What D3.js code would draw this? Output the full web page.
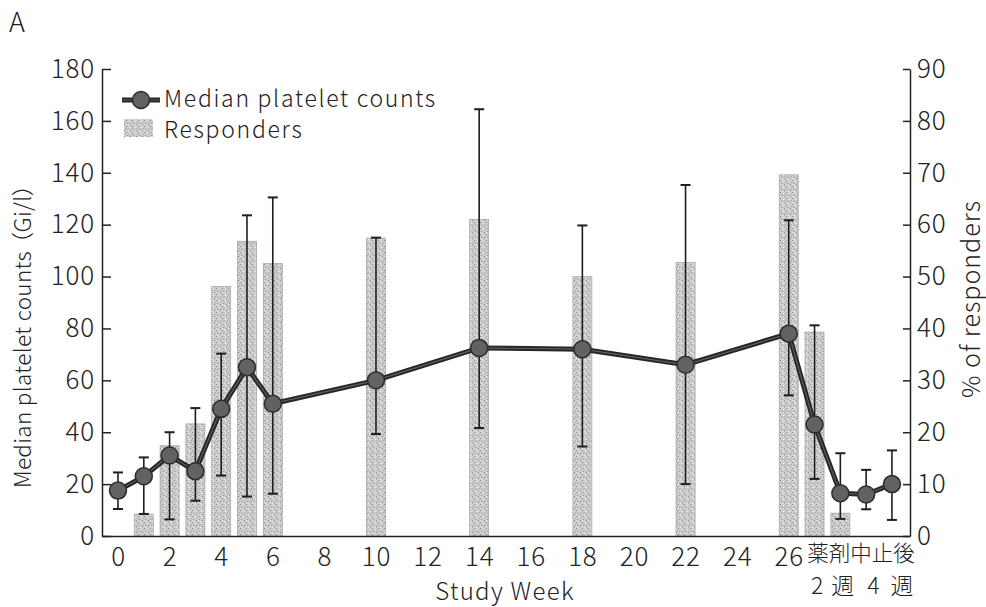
<!DOCTYPE html>
<html>
<head>
<meta charset="utf-8">
<script src="https://cdn.jsdelivr.net/npm/d3@7"></script>
<style>
  body { margin: 0; background: #fff; }
  text { font-family: "Noto Sans CJK JP", "Noto Sans", sans-serif; fill: #222; }
  .palt { font-feature-settings: "palt"; }
</style>
</head>
<body>
<div id="chart"></div>
<script>
// study weeks (27..30 = after stopping the drug)
const weeks = [0, 1, 2, 3, 4, 5, 6, 10, 14, 18, 22, 26, 27, 28, 29, 30];
const medianCounts = [17.5, 23, 31, 25, 49, 65, 51, 60, 72.5, 72, 66, 78, 43, 16.5, 16, 20];
const errUpper = [24.5, 30.3, 40, 49.3, 70.3, 123.6, 130.5, 115, 164.5, 119.7, 135.3, 121.7, 81.2, 31.9, 25.5, 33];
const errLower = [10.4, 8.5, 6.4, 13.6, 23.3, 15.2, 16.3, 39.3, 41.6, 34.5, 20, 54.2, 22, 6.6, 10.3, 6.2];

const barWeeks = [1, 2, 3, 4, 5, 6, 10, 14, 18, 22, 26, 27, 28];
const responders = [4.2, 17.4, 21.6, 48.1, 56.8, 52.5, 57.4, 61, 50, 52.7, 69.6, 39.3, 4.4];

const xTickWeeks = [0, 2, 4, 6, 8, 10, 12, 14, 16, 18, 20, 22, 24, 26];
const leftTicks = [0, 20, 40, 60, 80, 100, 120, 140, 160, 180];
const rightTicks = [0, 10, 20, 30, 40, 50, 60, 70, 80, 90];
const stopLabel = "薬剤中止後";
const stopWeeks = [28, 30];
const stopWeekLabels = ["2 週", "4 週"];

const W = 986, H = 607;
const plotL = 102, plotR = 910, plotT = 69, plotB = 536;

const svg = d3.select("#chart").append("svg")
    .attr("width", W)
    .attr("height", H);

const defs = svg.append("defs");
const pat = defs.append("pattern")
    .attr("id", "stipple")
    .attr("patternUnits", "userSpaceOnUse")
    .attr("width", 6).attr("height", 6);
pat.append("rect").attr("width", 6).attr("height", 6).attr("fill", "#cccccc");
[[0, 0, "#8a8a8a"], [3, 1, "#f4f4f4"], [1, 3, "#9c9c9c"], [4, 4, "#858585"], [5, 2, "#a5a5a5"], [2, 5, "#ececec"], [0, 4, "#e8e8e8"], [2, 2, "#b0b0b0"]]
    .forEach(p => pat.append("rect").attr("x", p[0]).attr("y", p[1]).attr("width", 1).attr("height", 1).attr("fill", p[2]));

const x = d3.scaleLinear().domain([-0.62, 30.7]).range([plotL, plotR]);
const yL = d3.scaleLinear().domain([0, 180]).range([plotB, plotT]);
const yR = d3.scaleLinear().domain([0, 90]).range([plotB, plotT]);

const barW = 19;

// responders bars
svg.append("g")
    .selectAll("rect")
    .data(barWeeks)
    .join("rect")
    .attr("x", (d, i) => x(d) - barW / 2)
    .attr("y", (d, i) => yR(responders[i]))
    .attr("width", barW)
    .attr("height", (d, i) => yR(0) - yR(responders[i]))
    .attr("fill", "url(#stipple)")
    .attr("stroke", "#a8a8a8")
    .attr("stroke-width", 0.8);

// axes
const axL = svg.append("g")
    .attr("transform", `translate(${plotL},0)`)
    .call(d3.axisLeft(yL).tickValues(leftTicks).tickSize(-9).tickSizeOuter(0).tickPadding(7));
const axR = svg.append("g")
    .attr("transform", `translate(${plotR},0)`)
    .call(d3.axisRight(yR).tickValues(rightTicks).tickSize(-7).tickSizeOuter(0).tickPadding(7));
const axB = svg.append("g")
    .attr("transform", `translate(0,${plotB})`)
    .call(d3.axisBottom(x).tickValues(xTickWeeks).tickSize(0).tickSizeOuter(0).tickPadding(5));

[axL, axR, axB].forEach(g => {
    g.selectAll("path,line").attr("stroke", "#222").attr("stroke-width", 1.5);
    g.selectAll("text")
        .attr("font-size", 26)
        .attr("font-weight", 300)
        .attr("letter-spacing", 0.8)
        .attr("font-family", "'Noto Sans CJK JP', sans-serif")
        .attr("fill", "#222");
});
axB.selectAll("text").attr("dy", "0.95em");

svg.append("text")
    .attr("x", 861)
    .attr("y", 561)
    .attr("text-anchor", "middle")
    .attr("font-size", 21.5)
    .attr("font-weight", 300)
    .text(stopLabel);

svg.append("g")
    .selectAll("text")
    .data(stopWeeks)
    .join("text")
    .attr("x", (d, i) => x(d) - (i === 0 ? 7 : 0))
    .attr("y", 594)
    .attr("text-anchor", "middle")
    .attr("font-size", 23)
    .attr("font-weight", 300)
    .attr("letter-spacing", (d, i) => i === 0 ? 1.5 : 3)
    .text((d, i) => stopWeekLabels[i]);

// error bars
const eb = svg.append("g").attr("stroke", "#1e1e1e");
weeks.forEach((w, i) => {
    eb.append("line")
        .attr("x1", x(w)).attr("x2", x(w))
        .attr("y1", yL(errUpper[i])).attr("y2", yL(errLower[i]))
        .attr("stroke-width", 1.6);
    [errUpper[i], errLower[i]].forEach(v => {
        eb.append("line")
            .attr("x1", x(w) - 5).attr("x2", x(w) + 5)
            .attr("y1", yL(v)).attr("y2", yL(v))
            .attr("stroke-width", 2);
    });
});

// median line
const line = d3.line()
    .x((d, i) => x(weeks[i]))
    .y(d => yL(d));

svg.append("path")
    .datum(medianCounts)
    .attr("fill", "none")
    .attr("stroke", "#262626")
    .attr("stroke-width", 5)
    .attr("d", line);
svg.append("path")
    .datum(medianCounts)
    .attr("fill", "none")
    .attr("stroke", "#5e5e5e")
    .attr("stroke-width", 1.2)
    .attr("d", line);

svg.append("g")
    .selectAll("circle")
    .data(medianCounts)
    .join("circle")
    .attr("cx", (d, i) => x(weeks[i]))
    .attr("cy", d => yL(d))
    .attr("r", 8.5)
    .attr("fill", "#626262")
    .attr("stroke", "#2c2c2c")
    .attr("stroke-width", 1.5);

// legend
const lg = svg.append("g");
lg.append("line").attr("x1", 122).attr("x2", 160).attr("y1", 100).attr("y2", 100)
    .attr("stroke", "#262626").attr("stroke-width", 5);
lg.append("line").attr("x1", 122).attr("x2", 160).attr("y1", 100).attr("y2", 100)
    .attr("stroke", "#5e5e5e").attr("stroke-width", 1.2);
lg.append("circle").attr("cx", 141).attr("cy", 100).attr("r", 8.5)
    .attr("fill", "#626262").attr("stroke", "#2c2c2c").attr("stroke-width", 1.5);
lg.append("text").attr("x", 164).attr("y", 107).attr("font-size", 23).attr("font-weight", 300)
    .attr("letter-spacing", 1.7)
    .text("Median platelet counts");
lg.append("rect").attr("x", 124).attr("y", 119).attr("width", 29).attr("height", 18)
    .attr("fill", "url(#stipple)");
lg.append("text").attr("x", 164).attr("y", 138).attr("font-size", 23).attr("font-weight", 300)
    .attr("letter-spacing", 1.7)
    .text("Responders");

// titles
svg.append("text").attr("x", 9).attr("y", 32).attr("font-size", 27).attr("font-weight", 300).text("A");

svg.append("text")
    .attr("x", 505).attr("y", 600)
    .attr("text-anchor", "middle")
    .attr("font-size", 24)
    .attr("font-weight", 300)
    .attr("letter-spacing", 1.3)
    .text("Study Week");

const lt = svg.append("text")
    .attr("class", "palt")
    .attr("transform", "translate(31,336) rotate(-90)")
    .attr("text-anchor", "middle")
    .attr("font-size", 22.5)
    .attr("font-weight", 300)
    .attr("letter-spacing", 0.3);
lt.append("tspan").text("Median platelet counts");
lt.append("tspan").attr("dx", 7).text("（Gi/l）");

svg.append("text")
    .attr("transform", "translate(980,299) rotate(-90)")
    .attr("text-anchor", "middle")
    .attr("font-size", 25)
    .attr("font-weight", 300)
    .attr("letter-spacing", 1)
    .text("% of responders");
</script>
</body>
</html>
